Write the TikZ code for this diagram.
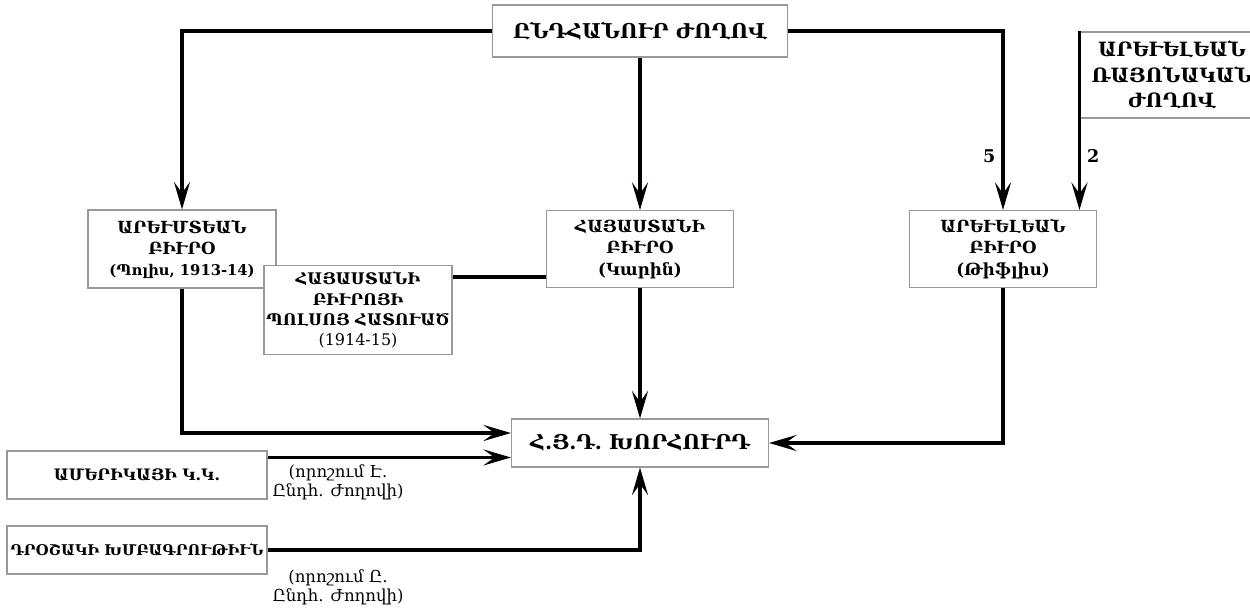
\documentclass[tikz,border=0pt]{standalone}
\usepackage{fontspec}
\setmainfont{DejaVu Serif}
\usetikzlibrary{arrows.meta}

\begin{document}
\begin{tikzpicture}[
  box/.style={draw=gray!80, line width=0.6pt, fill=white, align=center, inner sep=1pt, font=\bfseries\fontsize{9.5}{12}\selectfont},
  bigbox/.style={box, font=\bfseries\fontsize{11.6}{15}\selectfont},
  link/.style={line width=2pt},
  arr/.style={link, -{Stealth[length=5.5mm,width=3.2mm,inset=2.2mm]}},
  note/.style={align=center, font=\fontsize{9.4}{11}\selectfont}]
\useasboundingbox (0,0) rectangle (25,-12.16);
\node[bigbox, minimum width=5.9cm, minimum height=1.04cm] (gen) at (12.8,-0.62) {ԸՆԴՀԱՆՈՒՐ ԺՈՂՈՎ};
\node[box, minimum width=3.68cm, minimum height=1.72cm, font=\bfseries\fontsize{11.2}{14.5}\selectfont] (rayon) at (23.44,-1.5) {ԱՐԵՒԵԼԵԱՆ\\ՌԱՅՈՆԱԿԱՆ\\ԺՈՂՈՎ};
\node[box, minimum width=3.76cm, minimum height=1.56cm] (west) at (3.64,-4.98) {ԱՐԵՒՄՏԵԱՆ\\ԲԻՒՐՕ\\{\fontsize{8.4}{12}\selectfont (Պոլիս, 1913-14)}};
\node[box, minimum width=3.74cm, minimum height=1.54cm] (hay) at (12.8,-4.98) {ՀԱՅԱՍՏԱՆԻ\\ԲԻՒՐՕ\\(Կարին)};
\node[box, minimum width=3.74cm, minimum height=1.54cm] (eastb) at (20.06,-4.98) {ԱՐԵՒԵԼԵԱՆ\\ԲԻՒՐՕ\\(Թիֆլիս)};
\node[box, minimum width=3.76cm, minimum height=1.78cm, font=\bfseries\fontsize{9.1}{11.5}\selectfont] (inner) at (7.16,-6.2) {ՀԱՅԱՍՏԱՆԻ\\ԲԻՒՐՈՅԻ\\ՊՈԼՍՈՅ ՀԱՏՈՒԱԾ\\{\mdseries (1914-15)}};
\node[bigbox, minimum width=5.14cm, minimum height=0.96cm] (council) at (12.8,-8.86) {Հ.Յ.Դ. ԽՈՐՀՈՒՐԴ};
\node[box, minimum width=5.2cm, minimum height=0.96cm, font=\bfseries\fontsize{9}{11}\selectfont] (amer) at (2.74,-9.5) {ԱՄԵՐԻԿԱՅԻ Կ.Կ.};
\node[box, minimum width=5.2cm, minimum height=0.96cm, font=\bfseries\fontsize{8.4}{11}\selectfont] (drosh) at (2.74,-11) {ԴՐՕՇԱԿԻ ԽՄԲԱԳՐՈՒԹԻՒՆ};
\node[note] (dec7) at (6.76,-9.64) {(որոշում Է.\\Ընդհ. Ժողովի)};
\node[note] (dec8) at (6.76,-11.74) {(որոշում Ը.\\Ընդհ. Ժողովի)};
\draw[arr] (gen.west) -| (west.north);
\draw[arr] (gen) -- (hay);
\draw[arr] (gen.east) -| node [pos=0.85, left, font=\bfseries] {5} (eastb.north);
\draw[arr] (rayon.north west) -- (rayon.north west |- eastb.north) node [pos=0.7, right, font=\bfseries] {2};
\draw[link] ([yshift=-0.24cm]inner.north east) -- ([yshift=-0.24cm]inner.north east -| hay.west);
\draw[arr] (west.south) |- ([yshift=0.2cm]council.west);
\draw[arr] ([yshift=-0.14cm]amer.north east) -- ([yshift=-0.14cm]amer.north east -| council.west);
\draw[arr] (eastb.south) |- (council.east);
\draw[arr] (hay) -- (council);
\draw[arr] (drosh.east) -| (council.south);
\end{tikzpicture}
\end{document}
